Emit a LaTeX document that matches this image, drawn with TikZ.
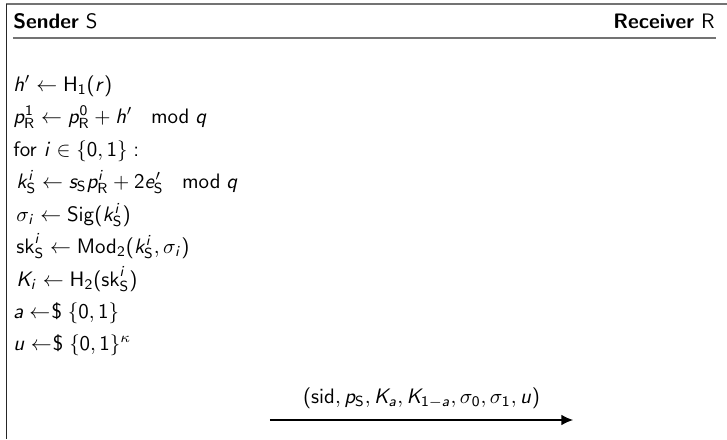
\documentclass[tikz,border=0pt]{standalone}
\usepackage{amsmath}
\usetikzlibrary{arrows.meta}
\DeclareSymbolFont{sfit}{OT1}{cmss}{m}{sl}
\SetSymbolFont{operators}{normal}{OT1}{cmss}{m}{n}
\DeclareMathSymbol{a}{\mathalpha}{sfit}{`a}
\DeclareMathSymbol{e}{\mathalpha}{sfit}{`e}
\DeclareMathSymbol{h}{\mathalpha}{sfit}{`h}
\DeclareMathSymbol{i}{\mathalpha}{sfit}{`i}
\DeclareMathSymbol{k}{\mathalpha}{sfit}{`k}
\DeclareMathSymbol{p}{\mathalpha}{sfit}{`p}
\DeclareMathSymbol{q}{\mathalpha}{sfit}{`q}
\DeclareMathSymbol{r}{\mathalpha}{sfit}{`r}
\DeclareMathSymbol{s}{\mathalpha}{sfit}{`s}
\DeclareMathSymbol{u}{\mathalpha}{sfit}{`u}
\DeclareMathSymbol{K}{\mathalpha}{sfit}{`K}
\newcommand{\smp}{\mathrel{\leftarrow\mkern-4mu\text{\$}}}
\newcommand{\mymod}{\mkern16mu\mathrm{mod}\mkern5mu}
\tikzset{
  line/.style={anchor=base west, inner sep=0pt, font=\sffamily},
  frame/.style={line width=0.8pt, black!85},
  rule/.style={line width=0.8pt, black!55},
  msg/.style={line width=0.5pt, -{Latex[length=5.5pt,width=5pt]}}
}
\begin{document}
\begin{tikzpicture}[x=0.478pt,y=-0.478pt]
\useasboundingbox (0,0) rectangle (727,439);
\draw[rule] (6.5,4) -- (727,4);
\draw[frame] (6.5,4) -- (6.5,439);
\draw[rule] (13,38) -- (716,38);
\node[line] (sender) at (13,28) {\textbf{Sender} S};
\node[line, anchor=base east] (receiver) at (715,28) {\textbf{Receiver} R};
\node[line] (l1) at (13,91) {$h' \leftarrow \mathsf{H}_1(r)$};
\node[line] (l2) at (13,123) {$p_{\mathsf{R}}^1 \leftarrow p_{\mathsf{R}}^0 + h' \mymod q$};
\node[line] (l3) at (13,156) {for $i \in \{0,1\}:$};
\node[line] (l4) at (16,188) {$k_{\mathsf{S}}^i \leftarrow s_{\mathsf{S}} p_{\mathsf{R}}^i + 2e_{\mathsf{S}}' \mymod q$};
\node[line] (l5) at (16,221) {$\sigma_i \leftarrow \mathsf{Sig}(k_{\mathsf{S}}^i)$};
\node[line] (l6) at (16,253) {$\mathsf{sk}_{\mathsf{S}}^i \leftarrow \mathsf{Mod}_2(k_{\mathsf{S}}^i, \sigma_i)$};
\node[line] (l7) at (16,286) {$K_i \leftarrow \mathsf{H}_2(\mathsf{sk}_{\mathsf{S}}^i)$};
\node[line] (l8) at (13,318) {$a \smp \{0,1\}$};
\node[line] (l9) at (13,350) {$u \smp \{0,1\}^\kappa$};
\coordinate (m1) at (270,420);
\coordinate (m2) at (573,420);
\draw[msg] (m1) -- (m2) node[midway, above=5pt, inner sep=0pt, font=\sffamily] (lbl) {$(\mathsf{sid}, p_{\mathsf{S}}, K_a, K_{1-a}, \sigma_0, \sigma_1, u)$};
\end{tikzpicture}
\end{document}
